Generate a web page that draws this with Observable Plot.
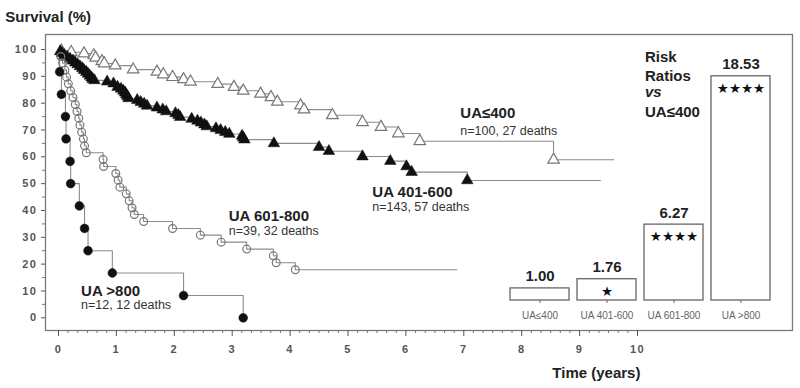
<!DOCTYPE html>
<html><head><meta charset="utf-8">
<script src="https://cdn.jsdelivr.net/npm/d3@7"></script>
<script src="https://cdn.jsdelivr.net/npm/@observablehq/plot@0.6"></script>
<style>
body{margin:0;background:#fff;}
#wrap{position:relative;width:800px;height:388px;}
#wrap svg{position:absolute;left:0;top:0;}
.main [aria-label="y-axis tick label"] text,.main [aria-label="x-axis tick label"] text{letter-spacing:1.5px}
</style></head><body><div id="wrap"></div>
<script>
// ---- data ----
const groups = ["UA≤400", "UA 401-600", "UA 601-800", "UA >800"];

const ua400Times = [0.05,0.22,0.44,0.61,0.64,0.75,0.79,0.98,1.29,1.70,1.81,1.97,2.16,2.28,2.75,3.03,3.19,3.49,3.67,3.78,4.18,4.24,4.73,5.25,5.57,5.87,6.24,8.55];
const ua400Surv  = [99.5,99.0,98.5,97.8,96.9,95.6,94.8,94.0,92.5,91.7,90.7,89.7,88.9,88.0,87.1,86.0,84.6,83.5,82.2,80.5,79.1,77.6,75.5,72.9,71.1,68.7,65.8,58.9];
const ua400End = 9.59;

const ua600Times = [0.03,0.06,0.10,0.15,0.20,0.25,0.29,0.33,0.37,0.41,0.44,0.48,0.51,0.54,0.57,0.59,0.62,0.84,0.95,1.02,1.08,1.12,1.15,1.17,1.19,1.21,1.36,1.42,1.48,1.53,1.70,1.80,1.86,2.02,2.07,2.10,2.30,2.40,2.46,2.52,2.56,2.72,2.80,2.88,2.95,3.17,3.19,3.21,3.72,4.50,4.67,5.25,5.73,6.01,6.10,7.06];
const ua600Surv  = [99.3,98.6,97.9,97.2,96.5,95.8,95.1,94.4,93.7,93.0,92.3,91.6,90.9,90.2,89.5,88.9,88.5,88.0,87.3,86.0,85.3,84.6,83.9,83.2,82.5,81.8,81.1,80.4,79.7,79.0,78.3,77.6,76.9,76.2,75.5,74.8,74.1,73.4,72.7,72.0,71.3,70.6,69.9,69.2,68.5,67.8,67.1,66.4,65.0,63.6,62.1,60.1,58.4,56.4,54.3,51.2];
const ua600End = 9.36;

const ua800Times = [0.04,0.07,0.11,0.14,0.17,0.21,0.25,0.29,0.32,0.35,0.37,0.40,0.43,0.45,0.48,0.77,0.78,0.99,1.03,1.06,1.17,1.22,1.27,1.31,1.47,1.97,2.45,2.81,3.25,3.71,3.76,4.09];
const ua800Surv  = [97.4,94.9,92.3,89.7,87.2,84.6,82.1,79.5,76.9,74.4,71.8,69.2,66.7,64.1,61.5,59.0,56.4,53.8,51.3,48.7,46.2,43.6,41.0,38.5,35.9,33.3,30.8,28.2,25.6,23.1,20.5,17.9];
const ua800End = 6.88;

const uaTopTimes = [0.02,0.05,0.12,0.13,0.20,0.21,0.36,0.45,0.51,0.93,2.16,3.19];
const uaTopSurv  = [91.7,83.3,75.0,66.7,58.3,50.0,41.7,33.3,25.0,16.7,8.3,0];
const uaTopEnd = 3.19;

const riskRatios = [1.00, 1.76, 6.27, 18.53];
const riskStars = ["", "★", "★★★★", "★★★★"];

const yTicks = [0,10,20,30,40,50,60,70,80,90,100];
const yMinor = [5,15,25,35,45,55,65,75,85,95];
const xTicks = [0,1,2,3,4,5,6,7,8,9,10];

// annotations (x in years, y in survival %)
const labelsBold = [
  {x: 6.94, y: 74.3, text: "UA≤400"},
  {x: 5.42, y: 45.2, text: "UA 401-600"},
  {x: 2.94, y: 36.0, text: "UA 601-800"},
  {x: 0.39, y: 8.3, text: "UA >800"},
  {x: 10.13, y: 95.3, text: "Risk"},
  {x: 10.13, y: 88.4, text: "Ratios"},
  {x: 10.13, y: 75.0, text: "UA≤400"},
  {x: -0.92, y: 110.4, text: "Survival (%)"}
];
const labelsItalic = [{x: 10.13, y: 82.2, text: "vs"}];
const labelsSmall = [
  {x: 6.94, y: 68.2, text: "n=100, 27 deaths"},
  {x: 5.42, y: 39.7, text: "n=143, 57 deaths"},
  {x: 2.94, y: 30.7, text: "n=39, 32 deaths"},
  {x: 0.39, y: 3.1, text: "n=12, 12 deaths"}
];
const axisTitleX = [{x: 9.29, y: -22.6, text: "Time (years)"}];

// ---- build tables ----
const series = [
  {group: groups[0], times: ua400Times, surv: ua400Surv, end: ua400End},
  {group: groups[1], times: ua600Times, surv: ua600Surv, end: ua600End},
  {group: groups[2], times: ua800Times, surv: ua800Surv, end: ua800End},
  {group: groups[3], times: uaTopTimes, surv: uaTopSurv, end: uaTopEnd}
];
const curve = [], events = [];
for (const s of series) {
  curve.push({group: s.group, t: 0, s: 100});
  s.times.forEach((t, i) => {
    curve.push({group: s.group, t, s: s.surv[i]});
    events.push({group: s.group, t, s: s.surv[i]});
  });
  curve.push({group: s.group, t: s.end, s: s.surv[s.surv.length - 1]});
}
const ev = g => events.filter(d => d.group === g);
const bars = groups.map((g, i) => ({group: g, ratio: riskRatios[i], stars: riskStars[i]}));

const font = "Liberation Sans, Arial, Helvetica, sans-serif";
const xMinor = d3.range(0, 60).map(i => i / 6).filter(v => v <= 10 && Math.abs(v - Math.round(v)) > 1e-6);

const main = Plot.plot({
  width: 800, height: 388,
  marginLeft: 45, marginRight: 8, marginTop: 34, marginBottom: 58,
  className: "main",
  style: {fontFamily: font, background: "transparent", overflow: "visible"},
  x: {domain: [-0.2245, 12.677]},
  y: {domain: [-4.733, 105.59]},
  marks: [
    Plot.frame({stroke: "#7a7a7a", strokeWidth: 1.3}),
    Plot.axisY({ticks: yTicks, tickSize: 4, tickPadding: 4, fontSize: 11, fontWeight: "bold", color: "#555", label: null}),
    Plot.axisY({ticks: yMinor, tickSize: 3, tickFormat: () => "", color: "#777", label: null}),
    Plot.axisX({ticks: xTicks, tickSize: 6, tickPadding: 9, fontSize: 11, fontWeight: "bold", color: "#555", label: null}),
    Plot.axisX({ticks: xMinor, tickSize: 3, tickFormat: () => "", color: "#777", label: null}),
    Plot.line(curve, {x: "t", y: "s", z: "group", curve: "step-after", stroke: "#8c8c8c", strokeWidth: 1.1}),
    Plot.dot(ev(groups[0]), {x: "t", y: "s", symbol: "triangle", r: 4.3, fill: "white", stroke: "#777", strokeWidth: 1.2}),
    Plot.dot(ev(groups[1]), {x: "t", y: "s", symbol: "triangle", r: 4.3, fill: "#111", stroke: "#111", strokeWidth: 0.5}),
    Plot.dot(ev(groups[2]), {x: "t", y: "s", symbol: "circle", r: 3.9, fill: "none", stroke: "#777", strokeWidth: 1.2}),
    Plot.dot(ev(groups[3]), {x: "t", y: "s", symbol: "circle", r: 4.4, fill: "#111", stroke: "#111", strokeWidth: 0.5}),
    Plot.text(labelsBold, {x: "x", y: "y", text: "text", textAnchor: "start", lineAnchor: "bottom", fontSize: 15, fontWeight: "bold", fill: "#222"}),
    Plot.text(labelsItalic, {x: "x", y: "y", text: "text", textAnchor: "start", lineAnchor: "bottom", fontSize: 15, fontWeight: "bold", fontStyle: "italic", fill: "#222"}),
    Plot.text(labelsSmall, {x: "x", y: "y", text: "text", textAnchor: "start", lineAnchor: "bottom", fontSize: 12.5, fill: "#333"}),
    Plot.text(axisTitleX, {x: "x", y: "y", text: "text", textAnchor: "middle", lineAnchor: "bottom", fontSize: 15, fontWeight: "bold", fill: "#222"})
  ]
});

const inset = Plot.plot({
  width: 800, height: 388,
  marginLeft: 505, marginRight: 25, marginTop: 58, marginBottom: 88,
  style: {fontFamily: font, background: "transparent", overflow: "visible"},
  x: {domain: groups, paddingInner: 0.126, paddingOuter: 0.063},
  y: {domain: [0, 20], axis: null},
  marks: [
    Plot.barY(bars, {x: "group", y: "ratio", fill: "white", stroke: "#666", strokeWidth: 1.3}),
    Plot.axisX({tickSize: 3, tickPadding: 8, fontSize: 10, color: "#666", label: null}),
    Plot.text(bars, {x: "group", y: "ratio", text: d => d.ratio.toFixed(2), dy: -7, lineAnchor: "bottom", fontSize: 15, fontWeight: "bold", fill: "#222"}),
    Plot.text(bars, {x: "group", y: "ratio", text: "stars", dy: 12, lineAnchor: "middle", fontSize: 13.5, fontFamily: "DejaVu Sans", fill: "#111"})
  ]
});

const wrap = document.getElementById("wrap");
wrap.appendChild(main);
wrap.appendChild(inset);
</script></body></html>
